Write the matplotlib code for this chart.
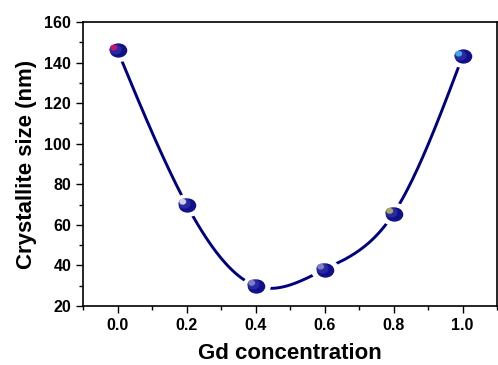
import numpy as np
import matplotlib
matplotlib.use("Agg")
import matplotlib.pyplot as plt
from matplotlib.path import Path
from matplotlib.transforms import Affine2D

plt.rcParams['font.family'] = ['Liberation Sans', 'DejaVu Sans']
plt.rcParams['font.weight'] = 'bold'

# data
gd = np.array([0.0, 0.2, 0.4, 0.6, 0.8, 1.0])
size_nm = np.array([146, 70, 30, 38, 65.5, 143])


def natural_spline(x, y, xs):
    # plain natural cubic spline, numpy only
    n = len(x)
    h = np.diff(x)
    A = np.zeros((n, n))
    r = np.zeros(n)
    A[0, 0] = A[-1, -1] = 1
    for i in range(1, n - 1):
        A[i, i - 1] = h[i - 1]
        A[i, i] = 2 * (h[i - 1] + h[i])
        A[i, i + 1] = h[i]
        r[i] = 3 * ((y[i + 1] - y[i]) / h[i] - (y[i] - y[i - 1]) / h[i - 1])
    c = np.linalg.solve(A, r)
    b = (y[1:] - y[:-1]) / h - h * (2 * c[:-1] + c[1:]) / 3
    d = (c[1:] - c[:-1]) / (3 * h)
    idx = np.clip(np.searchsorted(x, xs) - 1, 0, n - 2)
    t = xs - x[idx]
    return y[idx] + b[idx] * t + c[idx] * t ** 2 + d[idx] * t ** 3


xs = np.linspace(gd[0], gd[-1], 400)
ys = natural_spline(gd, size_nm, xs)

fig = plt.figure(figsize=(4.98, 3.65), dpi=100)
ax = fig.add_axes([0.1667, 0.1616, 0.8313, 0.7781])

ax.plot(xs, ys, color='#000080', lw=2.1, zorder=2)

# ball markers with a white halo so the line stops short of them
ell = Path.unit_circle().transformed(Affine2D().scale(1.25, 1.0))
ax.scatter(gd, size_nm, marker=ell, s=380, color='white', zorder=3)
ax.scatter(gd, size_nm, marker=ell, s=135, color='#10108a', zorder=4)
ax.scatter(gd - 0.006, size_nm + 0.8, marker=ell, s=60, color='#2a2aa0', zorder=5)
hl_colors = ['#d01070', '#d0d0ec', '#8080c8', '#8080c8', '#a8a868', '#40a8e8']
ax.scatter(gd - 0.011, size_nm + 1.4, marker=ell, s=16, c=hl_colors, zorder=6)

ax.set_xlim(-0.1, 1.1)
ax.set_ylim(20, 160)
ax.set_xticks([0.0, 0.2, 0.4, 0.6, 0.8, 1.0])
ax.set_xticks(np.arange(-0.1, 1.11, 0.1), minor=True)
ax.set_yticks(np.arange(20, 161, 20))
ax.set_yticks(np.arange(20, 161, 10), minor=True)
ax.tick_params(which='both', direction='out', labelsize=11.5, width=1)
ax.tick_params(which='major', length=5)
ax.tick_params(which='minor', length=3)
for lab in ax.get_xticklabels() + ax.get_yticklabels():
    lab.set_fontweight('bold')
for sp in ax.spines.values():
    sp.set_linewidth(1.2)

ax.set_xlabel('Gd concentration', fontsize=16, fontweight='bold', labelpad=7)
ax.set_ylabel('Crystallite size (nm)', fontsize=16, fontweight='bold', labelpad=5)

fig.savefig('out.png', dpi=100)
